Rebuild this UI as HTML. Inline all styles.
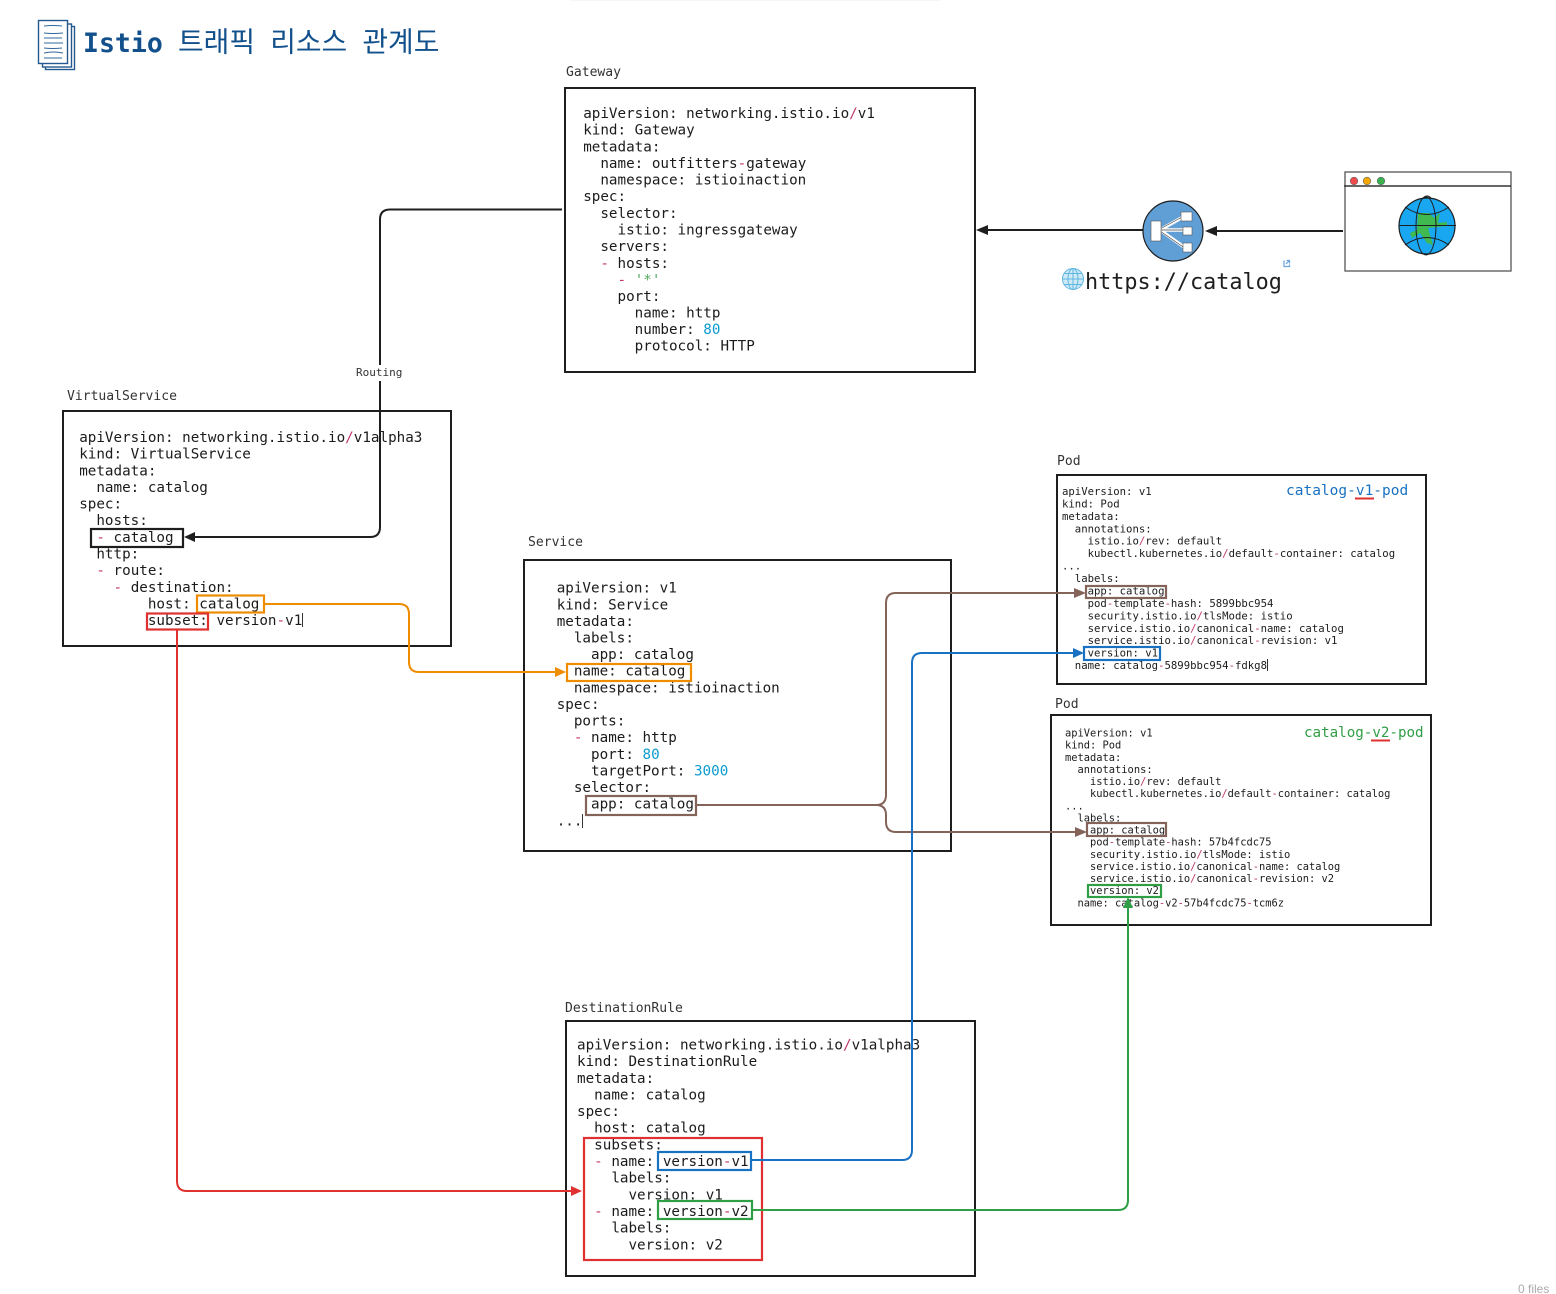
<!DOCTYPE html>
<html lang="ko">
<head>
<meta charset="utf-8">
<title>Istio 트래픽 리소스 관계도</title>
<style>
html,body{margin:0;padding:0;background:#fff;width:1556px;height:1294px;overflow:hidden}
svg{display:block}
text{white-space:pre;font-family:"DejaVu Sans Mono","Liberation Mono",monospace;fill:#1b1b1b}
.c{font-size:14.25px}
.p1{font-size:10.65px}
.p2{font-size:10.4px}
.lb{font-size:13.05px;fill:#333}
.m{fill:#c2376f}
.n{fill:#0a9bd0}
.g{fill:#55a85f}
.b{fill:#fff;stroke:#1e1e1e;stroke-width:2}
.h{fill:none;stroke-width:2.2}
.l{fill:none;stroke-width:2}
</style>
</head>
<body>
<svg width="1556" height="1294" viewBox="0 0 1556 1294" xmlns="http://www.w3.org/2000/svg">
<rect width="1556" height="1294" fill="#fff"/>

<!-- Title -->
<g fill="#fff" stroke="#24598f" stroke-width="1.400">
  <rect x="45.500" y="26.500" width="29" height="43"/>
  <rect x="42.500" y="24" width="29" height="43"/>
  <rect x="38.500" y="20.500" width="29" height="43"/>
</g>
<path d="M44 26q9 -1 18 0M44 33q9 1 19 0M44 38h18M44 43h19M44 48q9 1 18 0M44 53q9 -2 19 0M44 58h18" stroke="#2f689c" stroke-width="1" fill="none"/>
<text x="83" y="52" style="font-size:26.500px;font-weight:bold;fill:#12508c">Istio</text>
<text x="178" y="51.500" style="font-size:27.900px;fill:#12508c;font-family:'Noto Sans CJK KR','NanumGothic',sans-serif;word-spacing:7.400px">트래픽 리소스 관계도</text>

<!-- Boxes -->
<rect class="b" x="565" y="88" width="410" height="284"/>
<rect class="b" x="63" y="411" width="388" height="235"/>
<rect class="b" x="524" y="560" width="427" height="291"/>
<rect class="b" x="566" y="1021" width="409" height="255"/>
<rect class="b" x="1057" y="475" width="369" height="209"/>
<rect class="b" x="1051" y="715" width="380" height="210"/>

<!-- Box labels -->
<text class="lb" x="566" y="76">Gateway</text>
<text class="lb" x="67" y="400">VirtualService</text>
<text class="lb" x="528" y="546">Service</text>
<text class="lb" x="565" y="1012">DestinationRule</text>
<text class="lb" x="1057" y="465">Pod</text>
<text class="lb" x="1055" y="708">Pod</text>

<!-- Gateway -->
<text class="c" x="583.200" y="118">apiVersion: networking.istio.io<tspan class="m">/</tspan>v1</text>
<text class="c" x="583.200" y="134.600">kind: Gateway</text>
<text class="c" x="583.200" y="151.300">metadata:</text>
<text class="c" x="583.200" y="167.900">  name: outfitters<tspan class="m">-</tspan>gateway</text>
<text class="c" x="583.200" y="184.600">  namespace: istioinaction</text>
<text class="c" x="583.200" y="201.200">spec:</text>
<text class="c" x="583.200" y="217.800">  selector:</text>
<text class="c" x="583.200" y="234.500">    istio: ingressgateway</text>
<text class="c" x="583.200" y="251.100">  servers:</text>
<text class="c" x="583.200" y="267.800">  <tspan class="m">-</tspan> hosts:</text>
<text class="c" x="583.200" y="284.400">    <tspan class="m">-</tspan> <tspan class="g">'*'</tspan></text>
<text class="c" x="583.200" y="301">    port:</text>
<text class="c" x="583.200" y="317.700">      name: http</text>
<text class="c" x="583.200" y="334">      number: <tspan class="n">80</tspan></text>
<text class="c" x="583.200" y="350.700">      protocol: HTTP</text>

<!-- VirtualService -->
<text class="c" x="79.200" y="442">apiVersion: networking.istio.io<tspan class="m">/</tspan>v1alpha3</text>
<text class="c" x="79.200" y="458.600">kind: VirtualService</text>
<text class="c" x="79.200" y="475.300">metadata:</text>
<text class="c" x="79.200" y="491.900">  name: catalog</text>
<text class="c" x="79.200" y="508.600">spec:</text>
<text class="c" x="79.200" y="525.200">  hosts:</text>
<text class="c" x="79.200" y="541.800">  <tspan class="m">-</tspan> catalog</text>
<text class="c" x="79.200" y="558.500">  http:</text>
<text class="c" x="79.200" y="575.100">  <tspan class="m">-</tspan> route:</text>
<text class="c" x="79.200" y="591.800">    <tspan class="m">-</tspan> destination:</text>
<text class="c" x="79.200" y="608.400">        host: catalog</text>
<text class="c" x="79.200" y="625">        subset: version<tspan class="m">-</tspan>v1</text>
<path d="M302.500 613v14" stroke="#333" stroke-width="1"/>

<!-- Service -->
<text class="c" x="556.700" y="592.700">apiVersion: v1</text>
<text class="c" x="556.700" y="609.300">kind: Service</text>
<text class="c" x="556.700" y="625.900">metadata:</text>
<text class="c" x="556.700" y="642.500">  labels:</text>
<text class="c" x="556.700" y="659.100">    app: catalog</text>
<text class="c" x="556.700" y="675.700">  name: catalog</text>
<text class="c" x="556.700" y="692.300">  namespace: istioinaction</text>
<text class="c" x="556.700" y="708.900">spec:</text>
<text class="c" x="556.700" y="725.500">  ports:</text>
<text class="c" x="556.700" y="742.200">  <tspan class="m">-</tspan> name: http</text>
<text class="c" x="556.700" y="758.800">    port: <tspan class="n">80</tspan></text>
<text class="c" x="556.700" y="775.400">    targetPort: <tspan class="n">3000</tspan></text>
<text class="c" x="556.700" y="792">  selector:</text>
<text class="c" x="556.700" y="808.700">    app: catalog</text>
<text class="c" x="556.700" y="825.500">...</text>
<path d="M582.500 814v14" stroke="#333" stroke-width="1"/>

<!-- DestinationRule -->
<text class="c" x="577" y="1049.700">apiVersion: networking.istio.io<tspan class="m">/</tspan>v1alpha3</text>
<text class="c" x="577" y="1066.200">kind: DestinationRule</text>
<text class="c" x="577" y="1082.800">metadata:</text>
<text class="c" x="577" y="1099.400">  name: catalog</text>
<text class="c" x="577" y="1116">spec:</text>
<text class="c" x="577" y="1132.700">  host: catalog</text>
<text class="c" x="577" y="1149.400">  subsets:</text>
<text class="c" x="577" y="1166">  <tspan class="m">-</tspan> name: version<tspan class="m">-</tspan>v1</text>
<text class="c" x="577" y="1182.700">    labels:</text>
<text class="c" x="577" y="1199.300">      version: v1</text>
<text class="c" x="577" y="1216">  <tspan class="m">-</tspan> name: version<tspan class="m">-</tspan>v2</text>
<text class="c" x="577" y="1232.700">    labels:</text>
<text class="c" x="577" y="1249.300">      version: v2</text>

<!-- Pod v1 -->
<text class="p1" x="1062" y="495">apiVersion: v1</text>
<text class="p1" x="1062" y="507.400">kind: Pod</text>
<text class="p1" x="1062" y="519.900">metadata:</text>
<text class="p1" x="1062" y="532.300">  annotations:</text>
<text class="p1" x="1062" y="544.700">    istio.io<tspan class="m">/</tspan>rev: default</text>
<text class="p1" x="1062" y="557.200">    kubectl.kubernetes.io<tspan class="m">/</tspan>default<tspan class="m">-</tspan>container: catalog</text>
<text class="p1" x="1062" y="569.600">...</text>
<text class="p1" x="1062" y="582">  labels:</text>
<text class="p1" x="1062" y="594.500">    app: catalog</text>
<text class="p1" x="1062" y="606.900">    pod<tspan class="m">-</tspan>template<tspan class="m">-</tspan>hash: 5899bbc954</text>
<text class="p1" x="1062" y="619.300">    security.istio.io<tspan class="m">/</tspan>tlsMode: istio</text>
<text class="p1" x="1062" y="631.800">    service.istio.io<tspan class="m">/</tspan>canonical<tspan class="m">-</tspan>name: catalog</text>
<text class="p1" x="1062" y="644.200">    service.istio.io<tspan class="m">/</tspan>canonical<tspan class="m">-</tspan>revision: v1</text>
<text class="p1" x="1062" y="656.600">    version: v1</text>
<text class="p1" x="1062" y="669.100">  name: catalog<tspan class="m">-</tspan>5899bbc954<tspan class="m">-</tspan>fdkg8</text>
<path d="M1267.500 659v12" stroke="#333" stroke-width="1"/>
<text x="1286" y="495" style="font-size:14.500px;fill:#1971c2">catalog-v1-pod</text>
<path d="M1355 498.500h19" stroke="#e03131" stroke-width="2"/>

<!-- Pod v2 -->
<text class="p2" x="1065" y="736.500">apiVersion: v1</text>
<text class="p2" x="1065" y="748.600">kind: Pod</text>
<text class="p2" x="1065" y="760.800">metadata:</text>
<text class="p2" x="1065" y="772.900">  annotations:</text>
<text class="p2" x="1065" y="785">    istio.io<tspan class="m">/</tspan>rev: default</text>
<text class="p2" x="1065" y="797.200">    kubectl.kubernetes.io<tspan class="m">/</tspan>default<tspan class="m">-</tspan>container: catalog</text>
<text class="p2" x="1065" y="809.300">...</text>
<text class="p2" x="1065" y="821.400">  labels:</text>
<text class="p2" x="1065" y="833.600">    app: catalog</text>
<text class="p2" x="1065" y="845.700">    pod<tspan class="m">-</tspan>template<tspan class="m">-</tspan>hash: 57b4fcdc75</text>
<text class="p2" x="1065" y="857.800">    security.istio.io<tspan class="m">/</tspan>tlsMode: istio</text>
<text class="p2" x="1065" y="870">    service.istio.io<tspan class="m">/</tspan>canonical<tspan class="m">-</tspan>name: catalog</text>
<text class="p2" x="1065" y="882.100">    service.istio.io<tspan class="m">/</tspan>canonical<tspan class="m">-</tspan>revision: v2</text>
<text class="p2" x="1065" y="894.200">    version: v2</text>
<text class="p2" x="1065" y="906.400">  name: catalog<tspan class="m">-</tspan>v2<tspan class="m">-</tspan>57b4fcdc75<tspan class="m">-</tspan>tcm6z</text>
<text x="1304" y="737" style="font-size:14.200px;fill:#2f9e44">catalog-v2-pod</text>
<path d="M1371 740.500h19" stroke="#e03131" stroke-width="2"/>

<!-- Highlight boxes -->
<rect class="h" stroke="#1e1e1e" x="91" y="529" width="92" height="18"/>
<rect class="h" stroke="#f08c00" x="197" y="595.500" width="67" height="17"/>
<rect class="h" stroke="#e03131" x="147" y="613.500" width="61" height="16"/>
<rect class="h" stroke="#f08c00" x="567" y="664" width="124" height="17"/>
<rect class="h" stroke="#846358" x="586" y="796" width="110" height="19"/>
<rect class="h" stroke="#846358" x="1086" y="586" width="80" height="12"/>
<rect class="h" stroke="#1971c2" x="1084" y="647" width="76" height="13"/>
<rect class="h" stroke="#846358" x="1087" y="823" width="79" height="13"/>
<rect class="h" stroke="#2f9e44" x="1088" y="885" width="73" height="12"/>
<rect class="h" stroke="#e03131" x="584" y="1138" width="178" height="122"/>
<rect class="h" stroke="#1971c2" x="658" y="1152" width="93" height="18"/>
<rect class="h" stroke="#2f9e44" x="658" y="1201" width="94" height="18"/>

<!-- Connectors -->
<path class="l" stroke="#1e1e1e" d="M562 209.500H390Q380 209.500 380 219.500V527Q380 537 370 537H192"/>
<polygon fill="#1e1e1e" points="184,537 195,532 195,542"/>
<rect x="352" y="365" width="54" height="16" fill="#fff"/>
<text x="356" y="376" style="font-size:11px;fill:#333">Routing</text>

<path class="l" stroke="#f08c00" d="M264 604H399Q409 604 409 614V662Q409 672 419 672H557"/>
<polygon fill="#f08c00" points="566,672 555,667 555,677"/>

<path class="l" stroke="#846358" d="M696 805H876Q886 805 886 795V603Q886 593 896 593H1076"/>
<polygon fill="#846358" points="1086,593 1074,588 1074,598"/>
<path class="l" stroke="#846358" d="M876 805Q886 805 886 815V822Q886 832 896 832H1077"/>
<polygon fill="#846358" points="1087,832 1075,827 1075,837"/>

<path class="l" stroke="#1971c2" d="M751 1160H902Q912 1160 912 1150V663Q912 653 922 653H1075"/>
<polygon fill="#1971c2" points="1084,653 1073,648 1073,658"/>

<path class="l" stroke="#2f9e44" d="M752 1210H1118Q1128 1210 1128 1200V906"/>
<polygon fill="#2f9e44" points="1128,897 1123,908 1133,908"/>

<path class="l" stroke="#e03131" d="M177 630V1181Q177 1191 187 1191H573"/>
<polygon fill="#e03131" points="582,1191 571,1186 571,1196"/>

<path stroke="#1e1e1e" stroke-width="2" fill="none" d="M1343 231H1214M1143 230H986"/>
<polygon fill="#1e1e1e" points="1205,231 1217,226 1217,236"/>
<polygon fill="#1e1e1e" points="976,230 988,225 988,235"/>

<!-- Router -->
<circle cx="1173" cy="231" r="30" fill="#5f9fd6" stroke="#1e1e1e" stroke-width="1.200"/>
<path d="M1160 230L1183 217M1160 230H1184M1160 230L1184 247" stroke="#fff" stroke-width="3.400" fill="none"/>
<path d="M1160 229L1183 216.500M1160 231L1184 247.500M1160 230H1184" stroke="#444" stroke-width="0.700" fill="none"/>
<g fill="#fff" stroke="#555" stroke-width="0.600">
<rect x="1151" y="221" width="10" height="20"/>
<rect x="1181" y="212" width="11" height="9"/>
<rect x="1183" y="227" width="9" height="8"/>
<rect x="1183" y="243" width="9" height="9"/>
</g>

<!-- URL label -->
<g fill="none" stroke="#5fb6e0" stroke-width="1">
<circle cx="1073" cy="279" r="10.500" fill="#cfeaf7"/>
<ellipse cx="1073" cy="279" rx="5" ry="10.500"/>
<path d="M1073 268.500v21M1062.500 279h21M1064 273.500h18M1064 284.500h18"/>
</g>
<text x="1085" y="289" style="font-size:21.800px;fill:#1e1e1e">https://catalog</text>
<path d="M1284.500 261h-0.500v5.500h5.500v-2M1286.500 260.500h3v3M1289.500 260.500l-3.500 3.500" fill="none" stroke="#6aa5e0" stroke-width="1.200"/>

<!-- Browser window -->
<rect x="1345" y="172" width="166" height="99" fill="#fff" stroke="#555" stroke-width="1.300"/>
<path d="M1344 186H1511" stroke="#333" stroke-width="1.400"/>
<circle cx="1354" cy="181" r="3.800" fill="#f04a4a" stroke="#666" stroke-width="0.600"/>
<circle cx="1367" cy="181" r="3.800" fill="#f5a700" stroke="#666" stroke-width="0.600"/>
<circle cx="1381" cy="181" r="3.800" fill="#37b24d" stroke="#666" stroke-width="0.600"/>
<circle cx="1427" cy="226" r="28" fill="#1aa7f2" stroke="#1e1e1e" stroke-width="1.200"/>
<path d="M1418 213L1429 213L1434 218L1440 213L1438 223L1447 222L1447 226L1428 228L1433 245L1427 243L1420 233L1412 238L1410 233L1417 230Z" fill="#3fb950"/>
<g fill="none" stroke="#1e1e1e" stroke-width="1">
<ellipse cx="1426" cy="226" rx="10" ry="29"/>
<path d="M1399 225.500H1456M1405 207Q1427 222 1449 207M1405 245Q1427 230 1449 245"/>
<path d="M1423 198Q1427 194 1431 198"/>
</g>

<!-- Misc -->
<text x="1518" y="1293" style="font-family:'Liberation Sans',sans-serif;font-size:12px;fill:#aaa">0 files</text>
<rect x="570" y="0" width="370" height="1" fill="#f6f6f6"/>
</svg>
</body>
</html>
